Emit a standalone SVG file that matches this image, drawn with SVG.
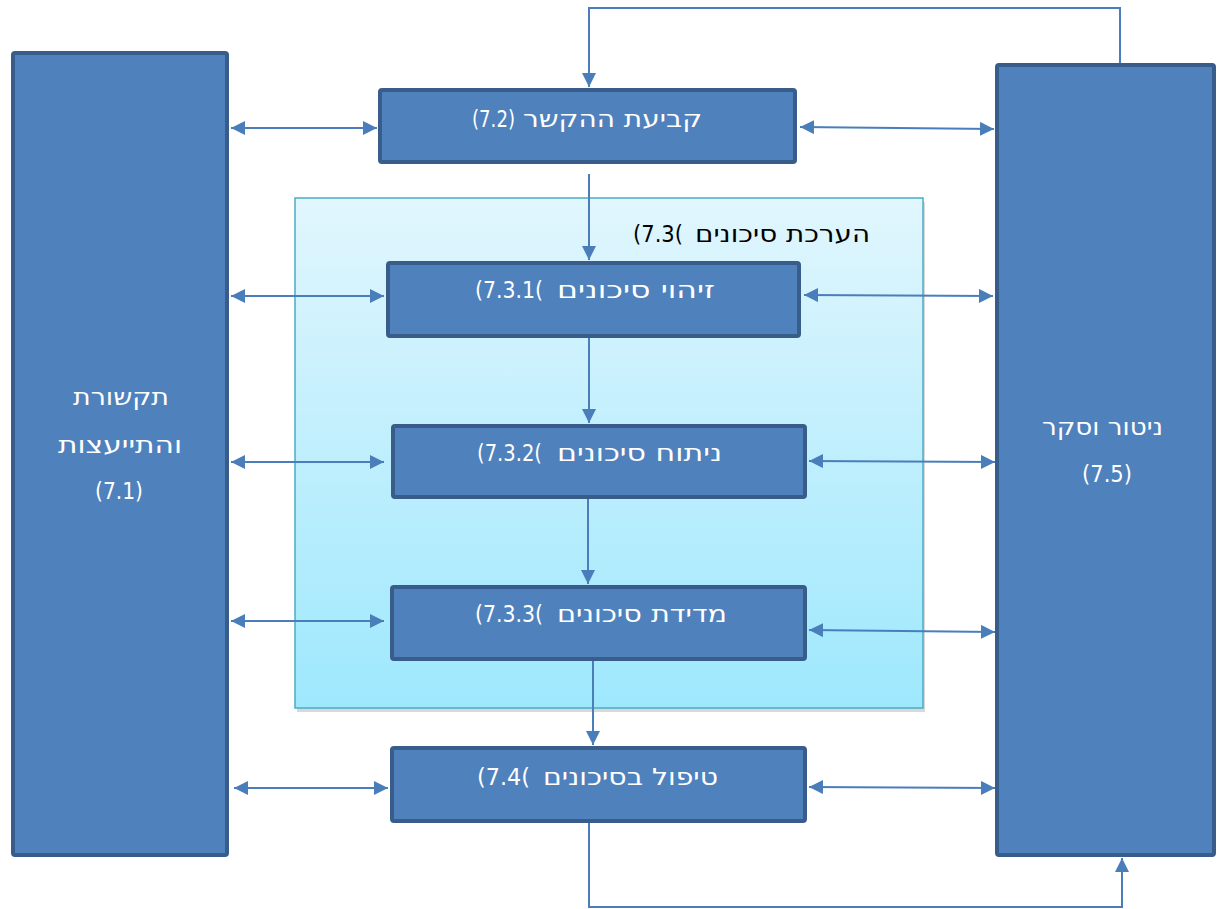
<svg xmlns="http://www.w3.org/2000/svg" width="1217" height="909" viewBox="0 0 1217 909">
<style>
.box{fill:#4F81BD;stroke:#385D8A;stroke-width:4}
.lbl{font-family:"DejaVu Sans","Liberation Sans",sans-serif;font-size:23px;fill:#FFFFFF}
.hdr{font-family:"DejaVu Sans","Liberation Sans",sans-serif;font-size:23px;fill:#000000}
.con{fill:none;stroke:#4A7EBB;stroke-width:2}
</style>
<defs>
<linearGradient id="grp" x1="0" y1="0" x2="0" y2="1">
<stop offset="0" stop-color="#E1F6FD"/>
<stop offset="1" stop-color="#9EE8FD"/>
</linearGradient>
<marker id="ah" viewBox="0 0 10 10" refX="10" refY="5" markerWidth="7" markerHeight="7" orient="auto-start-reverse" markerUnits="strokeWidth">
<path d="M0,0 L10,5 L0,10 z" fill="#4A7EBB"/>
</marker>
</defs>
<rect width="1217" height="909" fill="#FFFFFF"/>

<g id="group-7-3">
<rect x="297" y="202" width="628" height="510" fill="#000000" opacity="0.15"/>
<rect x="295" y="198" width="628" height="510" fill="url(#grp)" stroke="#4BACC6" stroke-width="1.5"/>
<text class="hdr" x="633" y="242" textLength="50" lengthAdjust="spacingAndGlyphs">(7.3(</text>
<text class="hdr" x="695" y="242" textLength="175" lengthAdjust="spacingAndGlyphs">הערכת סיכונים</text>
</g>

<g id="connectors">
<path class="con" d="M1120,64 V8 H589 V87" marker-end="url(#ah)"/>
<path class="con" d="M589,822 V907 H1122 V858" marker-end="url(#ah)"/>
<path class="con" d="M589,174 V260" marker-end="url(#ah)"/>
<path class="con" d="M589,337 V423" marker-end="url(#ah)"/>
<path class="con" d="M588,498 V584" marker-end="url(#ah)"/>
<path class="con" d="M593,660 V745" marker-end="url(#ah)"/>
<path class="con" d="M231,128 H377" marker-start="url(#ah)" marker-end="url(#ah)"/>
<path class="con" d="M231,296 H384" marker-start="url(#ah)" marker-end="url(#ah)"/>
<path class="con" d="M231,462 H384" marker-start="url(#ah)" marker-end="url(#ah)"/>
<path class="con" d="M231,621 H384" marker-start="url(#ah)" marker-end="url(#ah)"/>
<path class="con" d="M234,788 H388" marker-start="url(#ah)" marker-end="url(#ah)"/>
<path class="con" d="M800,127 L994,129" marker-start="url(#ah)" marker-end="url(#ah)"/>
<path class="con" d="M804,295 L993,296" marker-start="url(#ah)" marker-end="url(#ah)"/>
<path class="con" d="M809,461 L995,462" marker-start="url(#ah)" marker-end="url(#ah)"/>
<path class="con" d="M809,630 L995,632" marker-start="url(#ah)" marker-end="url(#ah)"/>
<path class="con" d="M809,787 L995,788" marker-start="url(#ah)" marker-end="url(#ah)"/>
</g>

<g id="node-7-1">
<rect class="box" x="13" y="53" width="214" height="802" rx="2"/>
<text class="lbl" x="73" y="405" textLength="96" lengthAdjust="spacingAndGlyphs">תקשורת</text>
<text class="lbl" x="58" y="453" textLength="124" lengthAdjust="spacingAndGlyphs">והתייעצות</text>
<text class="lbl" x="95" y="499" textLength="48" lengthAdjust="spacingAndGlyphs">(7.1)</text>
</g>

<g id="node-7-5">
<rect class="box" x="997" y="65" width="217" height="790" rx="2"/>
<text class="lbl" x="1042" y="435" textLength="121" lengthAdjust="spacingAndGlyphs">ניטור וסקר</text>
<text class="lbl" x="1082" y="482" textLength="50" lengthAdjust="spacingAndGlyphs">(7.5)</text>
</g>

<g id="node-7-2">
<rect class="box" x="380" y="90" width="415" height="72" rx="2"/>
<text class="lbl" x="472" y="127" textLength="43" lengthAdjust="spacingAndGlyphs">(7.2)</text>
<text class="lbl" x="523" y="127" textLength="179" lengthAdjust="spacingAndGlyphs">קביעת ההקשר</text>
</g>

<g id="node-7-3-1">
<rect class="box" x="388" y="263" width="411" height="73" rx="2"/>
<text class="lbl" x="475" y="298" textLength="68" lengthAdjust="spacingAndGlyphs">(7.3.1(</text>
<text class="lbl" x="557" y="298" textLength="158" lengthAdjust="spacingAndGlyphs">זיהוי סיכונים</text>
</g>

<g id="node-7-3-2">
<rect class="box" x="393" y="426" width="412" height="71" rx="2"/>
<text class="lbl" x="477" y="461" textLength="65" lengthAdjust="spacingAndGlyphs">(7.3.2(</text>
<text class="lbl" x="557" y="461" textLength="165" lengthAdjust="spacingAndGlyphs">ניתוח סיכונים</text>
</g>

<g id="node-7-3-3">
<rect class="box" x="392" y="587" width="413" height="72" rx="2"/>
<text class="lbl" x="475" y="622" textLength="68" lengthAdjust="spacingAndGlyphs">(7.3.3(</text>
<text class="lbl" x="557" y="622" textLength="170" lengthAdjust="spacingAndGlyphs">מדידת סיכונים</text>
</g>

<g id="node-7-4">
<rect class="box" x="392" y="748" width="413" height="73" rx="2"/>
<text class="lbl" x="477" y="785" textLength="53" lengthAdjust="spacingAndGlyphs">(7.4(</text>
<text class="lbl" x="543" y="785" textLength="175" lengthAdjust="spacingAndGlyphs">טיפול בסיכונים</text>
</g>
</svg>
